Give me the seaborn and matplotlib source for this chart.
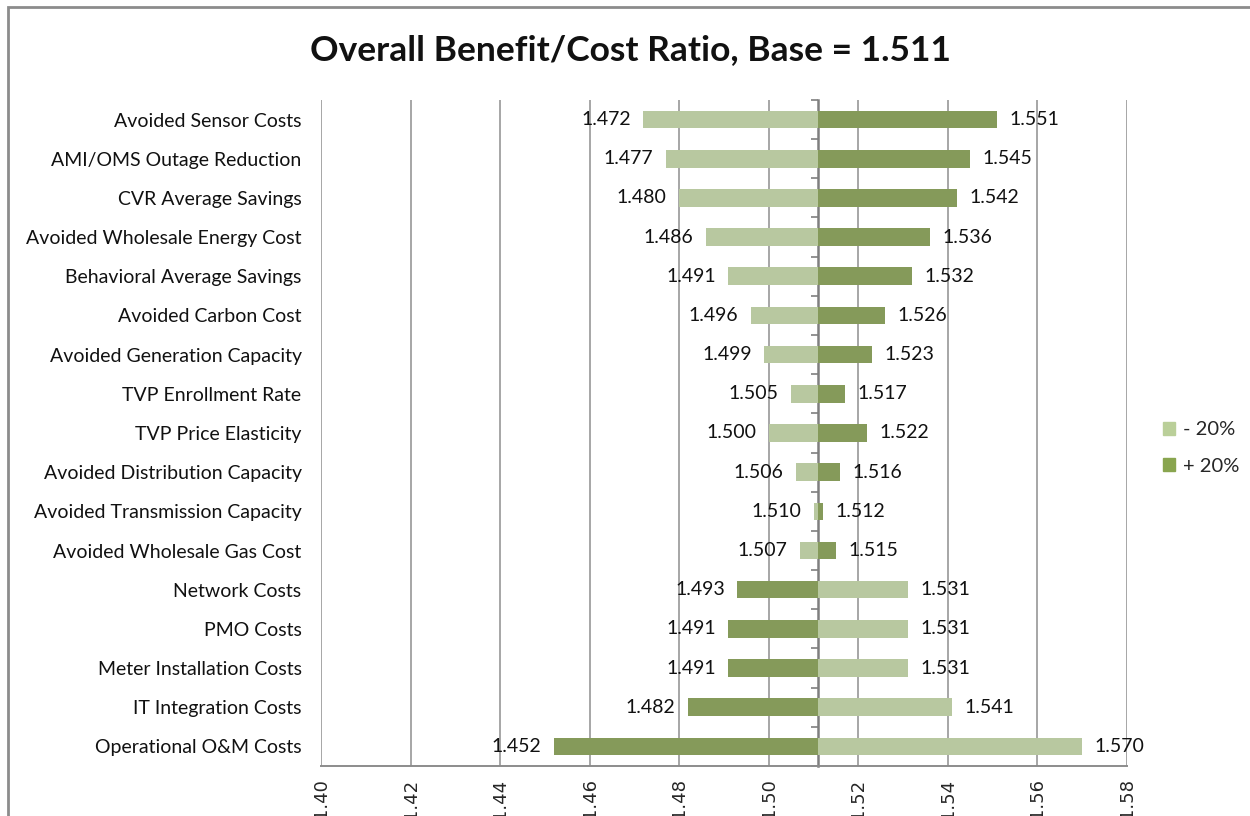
import pandas as pd
import matplotlib.pyplot as plt
import seaborn as sns
from matplotlib.patches import Rectangle
from matplotlib.ticker import FuncFormatter

# Data
base = 1.511
categories = ['Avoided Sensor Costs', 'AMI/OMS Outage Reduction', 'CVR Average Savings',
              'Avoided Wholesale Energy Cost', 'Behavioral Average Savings', 'Avoided Carbon Cost',
              'Avoided Generation Capacity', 'TVP Enrollment Rate', 'TVP Price Elasticity',
              'Avoided Distribution Capacity', 'Avoided Transmission Capacity',
              'Avoided Wholesale Gas Cost', 'Network Costs', 'PMO Costs',
              'Meter Installation Costs', 'IT Integration Costs', 'Operational O&M Costs']
minus_20 = [1.472, 1.477, 1.480, 1.486, 1.491, 1.496, 1.499, 1.505, 1.500, 1.506, 1.510,
            1.507, 1.531, 1.531, 1.531, 1.541, 1.570]
plus_20 = [1.551, 1.545, 1.542, 1.536, 1.532, 1.526, 1.523, 1.517, 1.522, 1.516, 1.512,
           1.515, 1.493, 1.491, 1.491, 1.482, 1.452]
scenarios = ['- 20%', '+ 20%']
x_ticks = [1.40, 1.42, 1.44, 1.46, 1.48, 1.50, 1.52, 1.54, 1.56, 1.58]

light_green = '#BACF99'
dark_green = '#89A54F'

# Long format, bars are drawn as the change from the base ratio
df = pd.DataFrame({
    'Category': categories * 2,
    'Scenario': [scenarios[0]] * len(categories) + [scenarios[1]] * len(categories),
    'Ratio': minus_20 + plus_20,
})
df['Delta'] = df['Ratio'] - base

sns.set_style('white')
plt.rcParams['font.family'] = ['Lato', 'DejaVu Sans']

fig = plt.figure(figsize=(12.5, 8.16), dpi=100)
ax = fig.add_axes([0.2568, 0.0613, 0.6448, 0.8162])

sns.barplot(data=df, x='Delta', y='Category', hue='Scenario', order=categories,
            hue_order=scenarios, palette=[light_green, dark_green], dodge=False,
            width=0.45, orient='h', ax=ax, legend=False, linewidth=0)

# value labels at the end of each bar
for cont, vals in zip(ax.containers, [minus_20, plus_20]):
    ax.bar_label(cont, labels=[f'{v:.3f}' for v in vals], padding=9, fontsize=14,
                 color='#111111')

ax.set_xlim(x_ticks[0] - base, x_ticks[-1] - base)
ax.set_ylim(len(categories) - 0.5, -0.5)
ax.set_xticks([t - base for t in x_ticks])
ax.xaxis.set_major_formatter(FuncFormatter(lambda v, p: f'{v + base:.2f}'))
ax.tick_params(axis='x', direction='out', length=6, width=1.2, color='#8C8C8C',
               labelrotation=90, labelsize=13, pad=3)
for lbl in ax.get_xticklabels():
    lbl.set_family('DejaVu Sans')
ax.tick_params(axis='y', length=0, labelsize=14, pad=14, labelcolor='#111111')
ax.set_xlabel('')
ax.set_ylabel('')

ax.grid(axis='x', color='#A6A6A6', linewidth=1.4)
ax.set_axisbelow(True)
for side in ['top', 'right', 'left']:
    ax.spines[side].set_visible(False)
ax.spines['bottom'].set_color('#8C8C8C')
ax.spines['bottom'].set_linewidth(1.4)

# category axis crossing at the base value, ticks pointing left
frac = (0 - ax.get_xlim()[0]) / (ax.get_xlim()[1] - ax.get_xlim()[0])
sec = ax.secondary_yaxis(frac)
sec.set_alignment('left')
sec.set_yticks([i - 0.5 for i in range(len(categories) + 1)], labels=[])
sec.tick_params(direction='out', length=5, width=1.2, color='#7F7F7F')
sec.spines['left'].set_color('#7F7F7F')
sec.spines['left'].set_linewidth(1.8)

fig.text(0.504, 0.939, 'Overall Benefit/Cost Ratio, Base = 1.511', ha='center',
         va='center', fontsize=25.5, fontweight='bold', color='#111111')

handles = [Rectangle((0, 0), 1, 1, color=light_green), Rectangle((0, 0), 1, 1, color=dark_green)]
fig.legend(handles, scenarios, loc='center left', bbox_to_anchor=(0.916, 0.451),
           frameon=False, fontsize=14.5, handlelength=0.6, handleheight=0.6,
           handletextpad=0.4, labelspacing=0.95)

# outer chart frame
fig.add_artist(Rectangle((0.0064, -0.1), 1.2, 0.9914 + 0.1, transform=fig.transFigure,
                         fill=False, edgecolor='#8C8C8C', linewidth=2))

fig.savefig('out.png', dpi=100)
